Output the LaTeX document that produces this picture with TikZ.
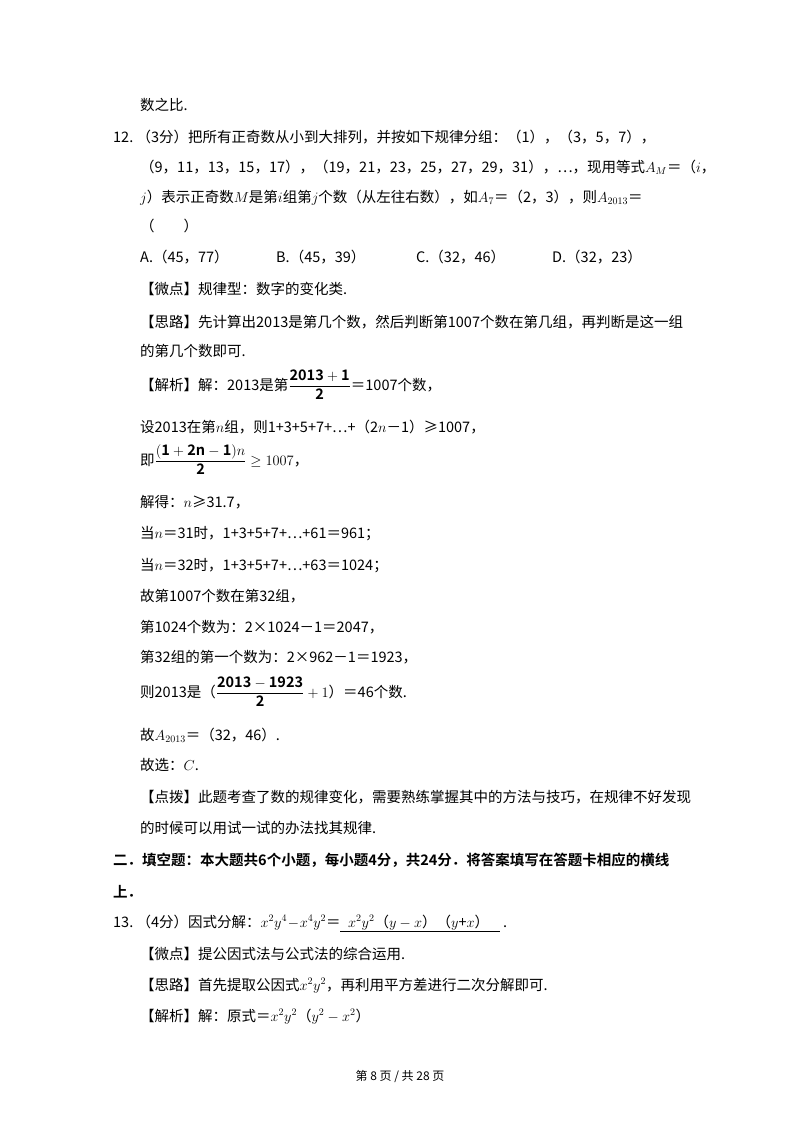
\documentclass[tikz,border=0pt]{standalone}
\usepackage{amsmath}
\usepackage{fontspec}
\setmainfont{Noto Sans CJK SC}[BoldFont={Noto Sans CJK SC Bold}]
\newfontfamily\lat{Liberation Serif}
\begin{document}
\begin{tikzpicture}[x=1pt,y=-1pt,
  ln/.style={anchor=base west,inner sep=0pt,font=\fontsize{14.5}{18}\selectfont}]
\useasboundingbox (0,0) rectangle (800,1132);
\node[ln] (l1) at (140,110) {数之比.};
\node[ln] (l2) at (113,142) {12.\ （3分）把所有正奇数从小到大排列，并按如下规律分组：（1），（3，5，7），};
\node[ln] (l3) at (140,172) {（9，11，13，15，17），（19，21，23，25，27，29，31），…，现用等式$A_M$＝（$i$，};
\node[ln] (l4) at (140,202) {$j$）表示正奇数$M$是第$i$组第$j$个数（从左往右数），如$A_7$＝（2，3），则$A_{2013}$＝};
\node[ln] (l5) at (140,231) {（\qquad）};
\node[ln] (oa) at (140,262) {A.（45，77）};
\node[ln] (ob) at (276,262) {B.（45，39）};
\node[ln] (oc) at (416,262) {C.（32，46）};
\node[ln] (od) at (552,262) {D.（32，23）};
\node[ln] (wd) at (140,294) {【微点】规律型：数字的变化类.};
\node[ln] (sl) at (140,327) {【思路】先计算出2013是第几个数，然后判断第1007个数在第几组，再判断是这一组};
\node[ln] (sl2) at (140,356) {的第几个数即可.};
\node[ln] (jx) at (140,390) {【解析】解：2013是第$\dfrac{\mathbf{2013+1}}{\mathbf{2}}$＝1007个数，};
\node[ln] (a1) at (140,432) {设2013在第$n$组，则1+3+5+7+…+（2$n$－1）≥1007，};
\node[ln] (a2) at (140,465) {即$\dfrac{\mathbf{(1+2n-1)}n}{\mathbf{2}}\geq 1007$，};
\node[ln] (a3) at (140,507) {解得：$n$≥31.7，};
\node[ln] (a4) at (140,538) {当$n$＝31时，1+3+5+7+…+61＝961；};
\node[ln] (a5) at (140,570) {当$n$＝32时，1+3+5+7+…+63＝1024；};
\node[ln] (a6) at (140,601) {故第1007个数在第32组，};
\node[ln] (a7) at (140,632) {第1024个数为：2×1024－1＝2047，};
\node[ln] (a8) at (140,662) {第32组的第一个数为：2×962－1＝1923，};
\node[ln] (a9) at (140,697) {则2013是（$\dfrac{\mathbf{2013-1923}}{\mathbf{2}}+1$）＝46个数.};
\node[ln] (a10) at (140,740) {故$A_{2013}$＝（32，46）.};
\node[ln] (a11) at (140,770) {故选：$C$.};
\node[ln] (db) at (140,802) {【点拨】此题考查了数的规律变化，需要熟练掌握其中的方法与技巧，在规律不好发现};
\node[ln] (db2) at (140,833) {的时候可以用试一试的办法找其规律.};
\node[ln,font=\fontsize{14.5}{18}\selectfont\bfseries] (h1) at (113,865) {二．填空题：本大题共6个小题，每小题4分，共24分．将答案填写在答题卡相应的横线};
\node[ln,font=\fontsize{14.5}{18}\selectfont\bfseries] (h2) at (113,897) {上．};
\node[ln] (q13) at (113,927) {13.\ （4分）因式分解：$x^2y^4\!-\!x^4y^2$＝};
\node[ln] (ans) at (348,927) {$x^2y^2$（$y-x$）（$y$+$x$）};
\coordinate (u1) at (340,931); \coordinate (u2) at (500,931);
\draw[line width=0.6pt] (u1) -- (u2);
\node[ln] (dot) at (503,927) {.};
\node[ln] (w13) at (140,959) {【微点】提公因式法与公式法的综合运用.};
\node[ln] (s13) at (140,990) {【思路】首先提取公因式$x^2y^2$，再利用平方差进行二次分解即可.};
\node[ln] (j13) at (140,1021) {【解析】解：原式＝$x^2y^2$（$y^2-x^2$）};
\node[anchor=base,inner sep=0pt,font=\fontsize{12}{14}\selectfont] (ft) at (400,1080) {第 8 页 / 共 28 页};
\end{tikzpicture}
\end{document}
